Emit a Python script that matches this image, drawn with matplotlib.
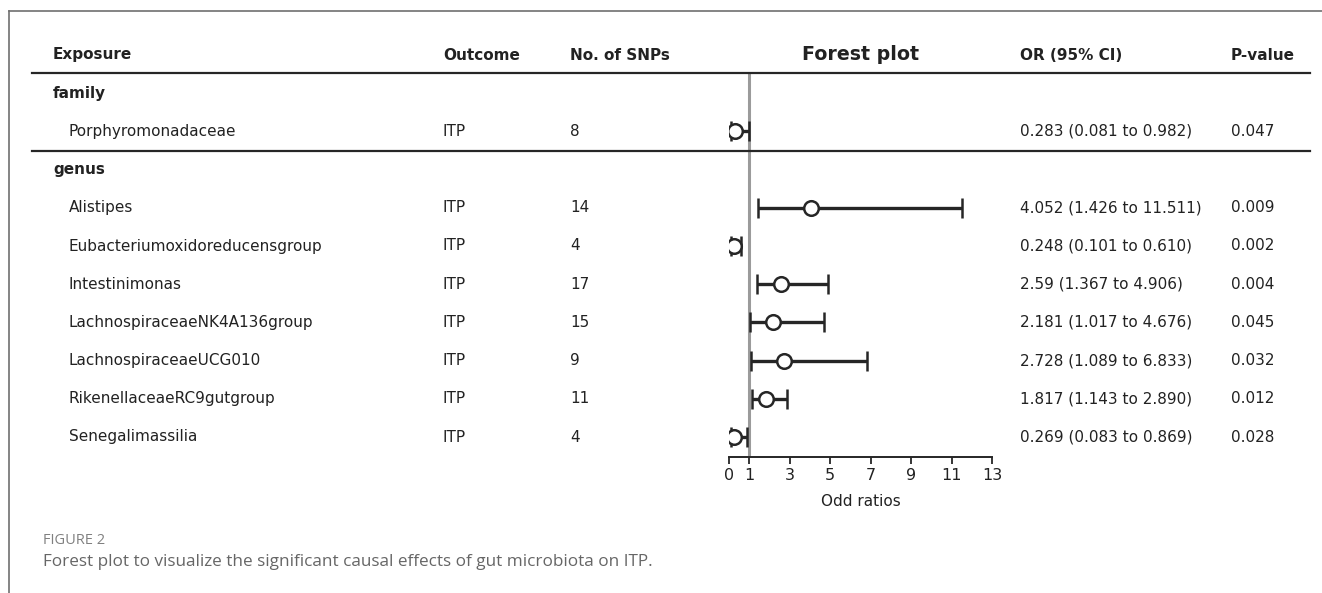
import matplotlib
matplotlib.use('Agg')
import matplotlib.pyplot as plt
from matplotlib.lines import Line2D
from matplotlib.transforms import blended_transform_factory

# Table / forest plot data
family_names = ['Porphyromonadaceae']
family_snps = ['8']
family_or = [0.283]
family_lo = [0.081]
family_hi = [0.982]
family_or_txt = ['0.283 (0.081 to 0.982)']
family_p = ['0.047']

genus_names = ['Alistipes', 'Eubacteriumoxidoreducensgroup', 'Intestinimonas',
               'LachnospiraceaeNK4A136group', 'LachnospiraceaeUCG010',
               'RikenellaceaeRC9gutgroup', 'Senegalimassilia']
genus_snps = ['14', '4', '17', '15', '9', '11', '4']
genus_or = [4.052, 0.248, 2.59, 2.181, 2.728, 1.817, 0.269]
genus_lo = [1.426, 0.101, 1.367, 1.017, 1.089, 1.143, 0.083]
genus_hi = [11.511, 0.610, 4.906, 4.676, 6.833, 2.890, 0.869]
genus_or_txt = ['4.052 (1.426 to 11.511)', '0.248 (0.101 to 0.610)',
                '2.59 (1.367 to 4.906)', '2.181 (1.017 to 4.676)',
                '2.728 (1.089 to 6.833)', '1.817 (1.143 to 2.890)',
                '0.269 (0.083 to 0.869)']
genus_p = ['0.009', '0.002', '0.004', '0.045', '0.032', '0.012', '0.028']

outcome = 'ITP'
headers = ['Exposure', 'Outcome', 'No. of SNPs', 'OR (95% CI)', 'P-value']
x_ticks = [0, 1, 3, 5, 7, 9, 11, 13]

W, H = 1322, 593
def fx(px):
    return px / W
def fy(py):
    return 1 - py / H

plt.rcParams['font.family'] = ['DejaVu Sans']
fig = plt.figure(figsize=(W / 100, H / 100), dpi=100)
fig.patch.set_facecolor('white')

# forest axes: rows in "row units", header row = 0
row_h = 38.2
top_px, bot_px, hdr_px = 73, 457, 55
ax = fig.add_axes([fx(729), fy(bot_px), fx(992) - fx(729), (bot_px - top_px) / H])

rows_family = [2]
rows_genus = list(range(4, 4 + len(genus_names)))

txt_col = '#222222'
line_col = '#262626'

# error bars
all_rows = rows_family + rows_genus
all_or = family_or + genus_or
all_lo = family_lo + genus_lo
all_hi = family_hi + genus_hi
xerr = [[o - l for o, l in zip(all_or, all_lo)], [h - o for o, h in zip(all_or, all_hi)]]
ax.errorbar(all_or, all_rows, xerr=xerr, fmt='o', ms=10.5, mfc='white', mec=line_col,
            mew=1.8, ecolor=line_col, elinewidth=2.4, capsize=7, capthick=2.2, zorder=3)
ax.axvline(1, color='#9b9b9b', lw=2.2, zorder=1)

ax.set_xlim(0, 13)
ax.set_ylim((bot_px - hdr_px) / row_h, (top_px - hdr_px) / row_h)
for s in ['top', 'left', 'right']:
    ax.spines[s].set_visible(False)
ax.spines['bottom'].set_color(line_col)
ax.spines['bottom'].set_linewidth(1.4)
ax.set_yticks([])
ax.set_xticks(x_ticks)
ax.tick_params(axis='x', length=5, width=1.3, color=line_col, labelsize=11.5,
               labelcolor=txt_col, pad=3)
ax.set_xlabel('Odd ratios', fontsize=11, color=txt_col, labelpad=8)
ax.patch.set_alpha(0)

# table text
tr = blended_transform_factory(fig.transFigure, ax.transData)
col_x = [fx(53), fx(443), fx(570), fx(1020), fx(1231)]
fs = 11
for x, h in zip(col_x, headers):
    ax.text(x, 0, h, transform=tr, fontsize=fs, fontweight='bold', color=txt_col,
            va='center', ha='left')
ax.text(6.5, 0, 'Forest plot', fontsize=13.7, fontweight='bold', color=txt_col,
        va='center', ha='center', clip_on=False)

ax.text(col_x[0], 1, 'family', transform=tr, fontsize=fs, fontweight='bold',
        color=txt_col, va='center')
ax.text(col_x[0], 3, 'genus', transform=tr, fontsize=fs, fontweight='bold',
        color=txt_col, va='center')

def put_rows(rows, names, snps, or_txt, pvals):
    for r, n, s, o, p in zip(rows, names, snps, or_txt, pvals):
        ax.text(fx(69), r, n, transform=tr, fontsize=fs, color=txt_col, va='center')
        ax.text(col_x[1], r, outcome, transform=tr, fontsize=fs, color=txt_col, va='center')
        ax.text(col_x[2], r, s, transform=tr, fontsize=fs, color=txt_col, va='center')
        ax.text(col_x[3], r, o, transform=tr, fontsize=fs, color=txt_col, va='center')
        ax.text(col_x[4], r, p, transform=tr, fontsize=fs, color=txt_col, va='center')

put_rows(rows_family, family_names, family_snps, family_or_txt, family_p)
put_rows(rows_genus, genus_names, genus_snps, genus_or_txt, genus_p)

# horizontal rules of the table
for r in [(top_px - hdr_px) / row_h, 2.5]:
    ax.add_line(Line2D([fx(32), fx(1310)], [r, r], transform=tr, color=line_col,
                       lw=1.6, clip_on=False))

# page frame
fig.add_artist(Line2D([fx(9), 1], [fy(11), fy(11)], color='#707070', lw=1.2))
fig.add_artist(Line2D([fx(9), fx(9)], [fy(11), 0], color='#707070', lw=1.2))

# caption
fig.text(fx(43), fy(540), 'FIGURE 2', family='Open Sans', fontsize=10.5,
         color='#808080', va='center')
fig.text(fx(43), fy(562), 'Forest plot to visualize the significant causal effects of gut microbiota on ITP.',
         family='Open Sans', fontsize=12.3, color='#666666', va='center')

fig.savefig('out.png', dpi=100)
